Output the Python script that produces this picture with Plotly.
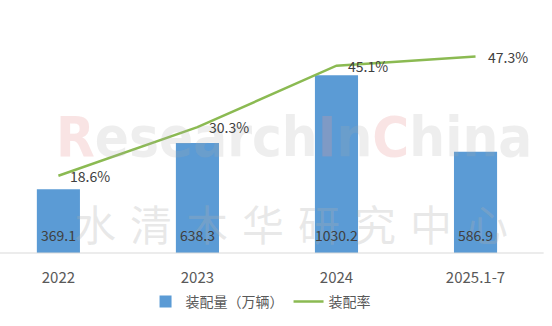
import plotly.graph_objects as go

categories = ["2022", "2023", "2024", "2025.1-7"]
volume = [369.1, 638.3, 1030.2, 586.9]          # 装配量（万辆）
rate = [18.6, 30.3, 45.1, 47.3]                 # 装配率 (%)
volume_labels = ["369.1", "638.3", "1030.2", "586.9"]
rate_labels = ["18.6%", "30.3%", "45.1%", "47.3%"]

BAR_COLOR = "#5B9BD5"
LINE_COLOR = "#8BBA52"
TEXT_COLOR = "#404040"
AXIS_TEXT = "#595959"
FONT = "Noto Sans CJK SC"

xi = list(range(len(categories)))

fig = go.Figure()
fig.add_trace(go.Bar(
    x=xi, y=volume, name="装配量（万辆）", width=0.31,
    marker=dict(color=BAR_COLOR, line=dict(width=0)),
    yaxis="y",
))
fig.add_trace(go.Scatter(
    x=xi, y=rate, name="装配率", mode="lines",
    line=dict(color=LINE_COLOR, width=2.5),
    yaxis="y2",
))

annotations = []
# watermark
pink = "rgba(232,150,150,0.26)"
grey = "rgba(170,170,170,0.20)"
wm = (f"<span style='color:{pink}'>R</span>"
      f"<span style='color:{grey}'>esearch</span>"
      f"<span style='color:{pink}'>I</span>"
      f"<span style='color:{grey}'>n</span>"
      f"<span style='color:{pink}'>C</span>"
      f"<span style='color:{grey}'>hina</span>")
annotations.append(dict(text="<b>" + wm + "</b>", xref="paper", yref="paper", x=0.533, y=0.5,
                        showarrow=False, xanchor="center", yanchor="middle",
                        font=dict(family="DejaVu Sans Condensed", size=56)))
cn = "水清木华研究中心"
for i, ch in enumerate(cn):
    annotations.append(dict(text=ch, xref="paper", yref="paper",
                            x=(95 + i * 56) / 552, y=(253 - 222) / 233,
                            showarrow=False, xanchor="center", yanchor="middle",
                            font=dict(family=FONT, size=42, color="rgba(175,175,175,0.28)")))

for i in xi:
    annotations.append(dict(text=volume_labels[i], x=i, y=0, xref="x", yref="y",
                            yshift=18, showarrow=False, xanchor="center", yanchor="middle",
                            font=dict(family=FONT, size=14, color=TEXT_COLOR)))
    annotations.append(dict(text=rate_labels[i], x=i, y=rate[i], xref="x", yref="y2",
                            xshift=10, showarrow=False, xanchor="left", yanchor="middle",
                            font=dict(family=FONT, size=14, color=TEXT_COLOR)))

fig.update_layout(
    width=552, height=326,
    margin=dict(l=0, r=0, t=20, b=73),
    paper_bgcolor="white", plot_bgcolor="white",
    font=dict(family=FONT, size=14, color=AXIS_TEXT),
    showlegend=True,
    legend=dict(orientation="h", x=0.472, y=-0.21, xanchor="center", yanchor="middle",
                font=dict(family=FONT, size=14, color=AXIS_TEXT),
                itemwidth=30, tracegroupgap=0),
    xaxis=dict(range=[-0.42, 3.55], tickmode="array", tickvals=xi, ticktext=categories,
               showgrid=False, zeroline=False, showline=False, ticks="",
               ticklabelstandoff=14, tickfont=dict(size=15, color=AXIS_TEXT)),
    yaxis=dict(range=[0, 1351], visible=False, showgrid=False, zeroline=False),
    yaxis2=dict(range=[0, 56.1], overlaying="y", visible=False, showgrid=False, zeroline=False),
    annotations=annotations,
    shapes=[dict(type="line", xref="x", yref="paper", x0=-0.42, x1=3.49, y0=0, y1=0,
                 line=dict(color="#D9D9D9", width=1))],
    bargap=0.5,
)

fig.write_html("out.html")
